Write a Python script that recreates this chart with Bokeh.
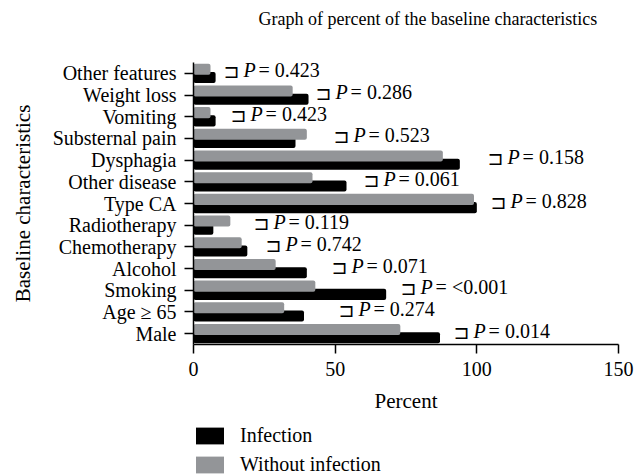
from bokeh.plotting import figure
from bokeh.models import ColumnDataSource, FactorRange, FixedTicker, Legend, LegendItem
from bokeh.layouts import column
from bokeh.transform import dodge
from bokeh.core.properties import value
from bokeh.embed import file_html
from bokeh.resources import INLINE

# Data (top to bottom in the picture)
categories = ["Other features", "Weight loss", "Vomiting", "Substernal pain", "Dysphagia",
              "Other disease", "Type CA", "Radiotherapy", "Chemotherapy", "Alcohol",
              "Smoking", "Age \u2265 65", "Male"]
infection = [7.8, 40.6, 7.8, 36, 94, 54, 100, 7, 19, 40, 68, 39, 87]
without_infection = [6, 35, 6, 40, 88, 42, 99, 13, 17, 29, 43, 32, 73]
p_values = ["0.423", "0.286", "0.423", "0.523", "0.158", "0.061", "0.828",
            "0.119", "0.742", "0.071", "<0.001", "0.274", "0.014"]
bracket_pos = [10.6, 43.1, 13.1, 49.4, 103.8, 60, 104.8, 21.2, 25.4, 48.7, 73.1, 51.2, 91.8]
x_ticks = [0, 50, 100, 150]
series_names = ["Infection", "Without infection"]
title_text = "Graph of percent of the baseline characteristics"

FONT = "Liberation Serif"
GREY = "#939598"
BLACK = "#000000"

src = ColumnDataSource(dict(
    cat=categories, inf=infection, woi=without_infection,
    pv=["= " + v for v in p_values], bx=bracket_pos,
    br=["\u2290"] * len(categories), pp=["P"] * len(categories),
))

# title strip above the chart
tf = figure(width=634, height=38, output_backend="svg", toolbar_location=None,
            x_range=(0, 1), y_range=(0, 1), min_border=0, title=title_text)
tf.axis.visible = False
tf.grid.visible = False
tf.outline_line_color = None
tf.title.align = "left"
tf.title.offset = 65
tf.title.standoff = 12
tf.title.text_font = FONT
tf.title.text_font_size = "18px"
tf.title.text_font_style = "normal"
tf.title.text_color = "black"

p = figure(width=634, height=382, output_backend="svg", toolbar_location=None,
           y_range=FactorRange(*categories[::-1]), x_range=(0, 150),
           min_border_left=193, min_border_right=16, min_border_top=24, min_border_bottom=76)
p.outline_line_color = None
p.grid.visible = False
p.background_fill_color = "white"

p.hbar(y=dodge("cat", -0.19, range=p.y_range), right="inf", left=0, height=0.51,
       source=src, fill_color=BLACK, line_color=None, border_radius=2)
p.hbar(y=dodge("cat", 0.19, range=p.y_range), right="woi", left=0, height=0.51,
       source=src, fill_color=GREY, line_color=None, border_radius=2)

p.text(x="bx", y="cat", text="br", source=src, text_font=value("DejaVu Sans"),
       text_font_size="19px", text_baseline="middle", text_align="left", text_color="black",
       y_offset=-2)
p.text(x="bx", y="cat", text="pp", source=src, x_offset=20, y_offset=-3, text_font=value(FONT),
       text_font_style="italic", text_font_size="20px", text_baseline="middle",
       text_align="left", text_color="black")
p.text(x="bx", y="cat", text="pv", source=src, x_offset=35, y_offset=-3, text_font=value(FONT),
       text_font_size="20px", text_baseline="middle", text_align="left", text_color="black")

# axes
p.xaxis.ticker = FixedTicker(ticks=x_ticks)
p.xaxis.axis_label = "Percent"
for ax in (p.xaxis[0], p.yaxis[0]):
    ax.axis_line_width = 1.5
    ax.axis_line_color = "black"
    ax.major_tick_line_width = 1.5
    ax.major_tick_line_color = "black"
    ax.major_tick_in = 0
    ax.major_tick_out = 9
    ax.minor_tick_line_color = None
    ax.major_label_text_font = FONT
    ax.major_label_text_font_size = "20px"
    ax.major_label_text_color = "black"
    ax.axis_label_text_font = FONT
    ax.axis_label_text_font_size = "21px"
    ax.axis_label_text_font_style = "normal"
    ax.axis_label_text_color = "black"
p.yaxis.axis_label = "Baseline characteristics"
p.yaxis.major_label_standoff = 8
p.xaxis.major_label_standoff = 8
p.xaxis.axis_label_standoff = 10
p.yaxis.axis_label_standoff = 15

# legend strip below the chart
lf = figure(width=634, height=54, output_backend="svg", toolbar_location=None,
            x_range=(0, 1), y_range=(0, 1), min_border=0)
lf.axis.visible = False
lf.grid.visible = False
lf.outline_line_color = None
hidden = ColumnDataSource(dict(y=[-5], r=[1]))
lr_inf = lf.hbar(y="y", right="r", left=0, height=0.5, source=hidden,
                 fill_color=BLACK, line_color=None)
lr_woi = lf.hbar(y="y", right="r", left=0, height=0.5, source=hidden,
                 fill_color=GREY, line_color=None)
legend = Legend(items=[LegendItem(label=series_names[0], renderers=[lr_inf]),
                       LegendItem(label=series_names[1], renderers=[lr_woi])],
                location=(-1, -2), orientation="vertical")
legend.border_line_color = None
legend.background_fill_alpha = 0
legend.padding = 0
legend.margin = 0
legend.spacing = 6
legend.glyph_width = 35
legend.glyph_height = 21
legend.label_standoff = 13
legend.label_text_font = FONT
legend.label_text_font_size = "20px"
legend.label_text_color = "black"
legend.label_height = 21
lf.add_layout(legend, "center")

open("out.html", "w").write(file_html(column(tf, p, lf), INLINE))
